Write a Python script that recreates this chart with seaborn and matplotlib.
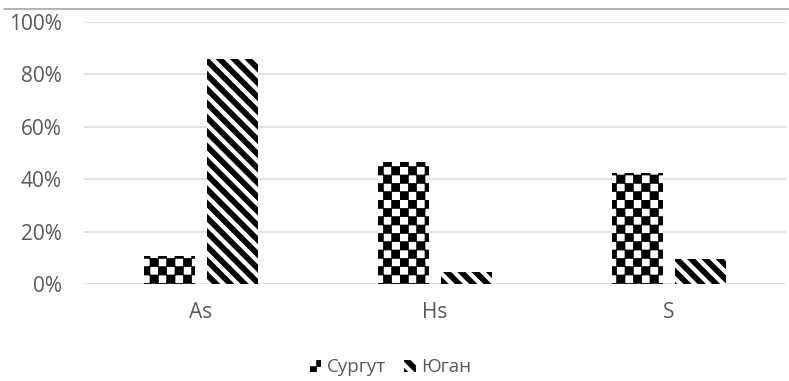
import numpy as np
import pandas as pd
import matplotlib.pyplot as plt
import matplotlib.hatch as mhatch
from matplotlib.lines import Line2D
from matplotlib.path import Path
from matplotlib.ticker import PercentFormatter
import seaborn as sns

# данные
categories = ['As', 'Hs', 'S']
surgut = [0.105, 0.465, 0.425]
yugan = [0.86, 0.047, 0.095]
series = ['Сургут', 'Юган']


# шахматка и диагональные полосы как в Excel (заливаемые полигоны)
class CheckerHatch(mhatch.HatchPatternBase):
    def __init__(self, hatch, density):
        self.n = hatch.count('O') * 12
        self.num_vertices = (self.n * self.n // 2) * 5

    def set_vertices_and_codes(self, vertices, codes):
        n = self.n
        k = 0
        for i in range(n):
            for j in range(n):
                if (i + j) % 2:
                    continue
                x0, y0, s = i / n, j / n, 1 / n
                vertices[k:k + 5] = [(x0, y0), (x0 + s, y0), (x0 + s, y0 + s),
                                     (x0, y0 + s), (x0, y0)]
                codes[k:k + 5] = [Path.MOVETO, Path.LINETO, Path.LINETO,
                                  Path.LINETO, Path.CLOSEPOLY]
                k += 5


class StripeHatch(mhatch.HatchPatternBase):
    def __init__(self, hatch, density):
        self.n = hatch.count('o') * 7
        self.num_vertices = 2 * self.n * 5

    def set_vertices_and_codes(self, vertices, codes):
        n = self.n
        k = 0
        for m in range(2 * n):
            a, b = m / n, (m + 0.5) / n
            vertices[k:k + 5] = [(-1, a + 1), (2, a - 2), (2, b - 2),
                                 (-1, b + 1), (-1, a + 1)]
            codes[k:k + 5] = [Path.MOVETO, Path.LINETO, Path.LINETO,
                              Path.LINETO, Path.CLOSEPOLY]
            k += 5


mhatch._hatch_types[mhatch._hatch_types.index(mhatch.LargeCircles)] = CheckerHatch
mhatch._hatch_types[mhatch._hatch_types.index(mhatch.SmallCircles)] = StripeHatch

sns.set_style('white')
plt.rcParams['font.family'] = ['Open Sans', 'DejaVu Sans']
plt.rcParams['hatch.linewidth'] = 0.5

df = pd.DataFrame({
    'cat': categories * 2,
    'series': [series[0]] * 3 + [series[1]] * 3,
    'val': surgut + yugan,
})

fig = plt.figure(figsize=(7.89, 3.81), dpi=100)
ax = fig.add_axes([0.1065, 0.2546, 0.8895, 0.6877])

sns.barplot(data=df, x='cat', y='val', hue='series', palette=['white', 'white'],
            width=0.54, gap=0.2, legend=False, ax=ax)

hatches = ['O', 'o']
for cont, h in zip(ax.containers, hatches):
    for p in cont:
        p.set_edgecolor('black')
        p.set_linewidth(0)
        p.set_hatch(h)

ax.set_ylim(0, 1)
ax.set_yticks(np.arange(0, 1.01, 0.2))
ax.yaxis.set_major_formatter(PercentFormatter(1.0, decimals=0))
ax.set_xlim(-0.5, 2.5)
ax.set_xlabel('')
ax.set_ylabel('')
ax.grid(axis='y', color='#d9d9d9', linewidth=1.1)
ax.set_axisbelow(True)
for s in ax.spines.values():
    s.set_visible(False)
ax.tick_params(axis='both', length=0, labelsize=15, labelcolor='#595959')
ax.tick_params(axis='y', pad=16)
ax.tick_params(axis='x', pad=13)

fig.legend(ax.containers, series, loc='center', bbox_to_anchor=(0.495, 0.036),
           ncol=2, frameon=False, fontsize=13.5, labelcolor='#595959',
           handlelength=0.6, handleheight=0.6, handletextpad=0.3, columnspacing=1.0)

fig.add_artist(Line2D([0.005, 1], [1 - 9 / 381] * 2, transform=fig.transFigure,
                      color='#a6a6a6', linewidth=1.2))

plt.savefig('out.png', dpi=100)
